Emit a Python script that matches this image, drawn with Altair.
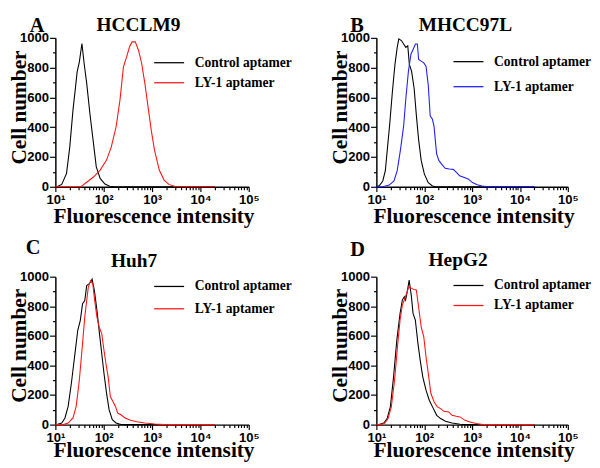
import math
import altair as alt
import pandas as pd

SERIF = "Liberation Serif"
SANS = "Liberation Sans"

SERIES = ["Control aptamer", "LY-1 aptamer"]
LETTERS = ["A", "B", "C", "D"]
CELL_LINES = ["HCCLM9", "MHCC97L", "Huh7", "HepG2"]
X_TITLE = "Fluorescence intensity"
Y_TITLE = "Cell number"
LY1_COLORS = ["#ff1414", "#1e1eff", "#ff1414", "#ff1414"]
DECADES = [1, 2, 3, 4, 5]
SUPERSCRIPTS = ["⁰", "¹", "²", "³", "⁴", "⁵"]
Y_TICKS = [0, 100, 200, 300, 400, 500, 600, 700, 800, 900, 1000]

# x = log10(fluorescence intensity), y = cell number
A_ctrl_x = [1.000, 1.033, 1.132, 1.231, 1.298, 1.364, 1.410, 1.450, 1.496, 1.549, 1.595, 1.648, 1.714, 1.780, 1.846, 1.926, 2.025, 2.124, 2.223, 4.300]
A_ctrl_y = [0, 0, 16, 90, 268, 515, 649, 772, 839, 962, 828, 694, 492, 313, 134, 56, 18, 4, 0, 0]
A_ly1_x = [1.000, 1.529, 1.562, 1.661, 1.793, 1.926, 2.058, 2.157, 2.256, 2.336, 2.408, 2.474, 2.534, 2.587, 2.653, 2.719, 2.785, 2.851, 2.917, 2.983, 3.050, 3.149, 3.248, 3.347, 3.479, 3.645, 4.300]
A_ly1_y = [0, 0, 9, 34, 67, 112, 179, 268, 403, 582, 805, 872, 940, 973, 973, 917, 828, 694, 537, 380, 246, 112, 45, 16, 2, 0, 0]

B_ctrl_x = [1.000, 1.067, 1.134, 1.187, 1.234, 1.281, 1.334, 1.388, 1.435, 1.468, 1.522, 1.569, 1.615, 1.656, 1.689, 1.736, 1.789, 1.836, 1.883, 1.936, 2.003, 2.084, 2.171, 2.237, 4.300]
B_ctrl_y = [0, 9, 39, 108, 269, 430, 637, 821, 936, 993, 982, 959, 936, 947, 821, 775, 660, 476, 315, 177, 85, 28, 5, 0, 0]
B_ly1_x = [1.000, 1.134, 1.268, 1.368, 1.435, 1.502, 1.569, 1.615, 1.669, 1.722, 1.769, 1.816, 1.856, 1.883, 1.936, 1.990, 2.037, 2.084, 2.124, 2.171, 2.204, 2.258, 2.304, 2.371, 2.438, 2.525, 2.605, 2.672, 2.739, 2.839, 2.926, 3.007, 3.107, 3.207, 3.341, 4.300]
B_ly1_y = [0, 0, 11, 39, 108, 246, 407, 591, 775, 890, 924, 959, 959, 855, 844, 832, 809, 683, 476, 453, 407, 223, 177, 149, 124, 120, 117, 97, 74, 62, 51, 28, 14, 5, 0, 0]

C_ctrl_x = [1.000, 1.033, 1.132, 1.198, 1.264, 1.331, 1.397, 1.463, 1.516, 1.562, 1.608, 1.648, 1.694, 1.727, 1.760, 1.807, 1.860, 1.912, 1.959, 2.005, 2.058, 2.111, 2.177, 2.256, 2.355, 4.300]
C_ctrl_y = [0, 0, 11, 45, 123, 280, 459, 638, 705, 817, 839, 940, 951, 962, 984, 906, 772, 615, 481, 347, 213, 101, 34, 11, 0, 0]
C_ly1_x = [1.000, 1.165, 1.264, 1.364, 1.430, 1.496, 1.562, 1.608, 1.648, 1.681, 1.727, 1.774, 1.813, 1.860, 1.906, 1.959, 2.005, 2.045, 2.091, 2.137, 2.190, 2.243, 2.289, 2.355, 2.441, 2.554, 2.686, 2.851, 3.050, 3.248, 4.300]
C_ly1_y = [0, 0, 11, 45, 123, 302, 548, 727, 839, 928, 973, 951, 839, 727, 660, 615, 503, 414, 324, 190, 157, 123, 78, 67, 45, 29, 20, 11, 4, 0, 0]

D_ctrl_x = [1.000, 1.054, 1.156, 1.224, 1.292, 1.359, 1.427, 1.495, 1.542, 1.583, 1.610, 1.644, 1.685, 1.732, 1.766, 1.814, 1.868, 1.915, 1.969, 2.037, 2.105, 2.173, 2.261, 2.342, 2.444, 2.580, 2.749, 2.885, 4.300]
D_ctrl_y = [0, 0, 11, 41, 120, 323, 571, 752, 842, 865, 842, 898, 977, 865, 752, 707, 549, 436, 323, 233, 165, 120, 63, 41, 23, 11, 2, 0, 0]
D_ly1_x = [1.000, 1.088, 1.176, 1.244, 1.312, 1.380, 1.447, 1.495, 1.542, 1.583, 1.631, 1.678, 1.732, 1.786, 1.834, 1.881, 1.936, 1.990, 2.037, 2.085, 2.139, 2.207, 2.275, 2.342, 2.410, 2.512, 2.580, 2.668, 2.749, 2.851, 2.953, 3.088, 3.224, 4.300]
D_ly1_y = [0, 0, 11, 41, 120, 300, 549, 707, 808, 842, 887, 932, 921, 914, 910, 797, 661, 594, 458, 345, 210, 153, 120, 108, 90, 86, 63, 56, 52, 29, 18, 7, 0, 0]

CURVES = [
    (A_ctrl_x, A_ctrl_y, A_ly1_x, A_ly1_y),
    (B_ctrl_x, B_ctrl_y, B_ly1_x, B_ly1_y),
    (C_ctrl_x, C_ctrl_y, C_ly1_x, C_ly1_y),
    (D_ctrl_x, D_ctrl_y, D_ly1_x, D_ly1_y),
]

# layout per panel: width, height, legendX, legendY, rowPadding,
# letter (x, top-y), name (x, top-y), x-title baseline offset below the plot
LAYOUT = [
    dict(w=200, h=154, lx=102.4, ly=18.7, rp=6.7, let=(-26.6, -23), nm=(85.9, -23), ty=37),
    dict(w=198, h=154, lx=80, ly=17.6, rp=11.9, let=(-27, -23), nm=(92, -23), ty=37),
    dict(w=200, h=153, lx=102.4, ly=3.1, rp=9.1, let=(-30.6, -40), nm=(81.4, -26.1), ty=33.5),
    dict(w=198, h=153, lx=80, ly=2.1, rp=6.7, let=(-27, -38.9), nm=(84.5, -27.2), ty=33.5),
]

X_TICKS = [d + math.log10(k) for d in DECADES[:-1] for k in range(1, 10)] + [DECADES[-1]]
DECADE_TEST = "abs(datum.value - round(datum.value)) < 0.001"
SUP_ARRAY = "[" + ",".join("'" + s + "'" for s in SUPERSCRIPTS) + "]"
X_LABEL_EXPR = f"{DECADE_TEST} ? '10' + {SUP_ARRAY}[round(datum.value)] : ''"


def text_layer(txt, size, x, y, align, baseline, angle=0):
    return alt.Chart(pd.DataFrame({"t": [txt]})).mark_text(
        font=SERIF, fontWeight="bold", fontSize=size, align=align, baseline=baseline,
        angle=angle, color="black",
    ).encode(text="t:N", x=alt.value(x), y=alt.value(y))


def panel(i):
    cx, cy, lx, ly = CURVES[i]
    L = LAYOUT[i]
    w, h = L["w"], L["h"]
    df = pd.DataFrame({
        "logI": cx + lx,
        "count": cy + ly,
        "series": [SERIES[0]] * len(cx) + [SERIES[1]] * len(lx),
    })
    xaxis = alt.Axis(
        values=X_TICKS, labelExpr=X_LABEL_EXPR, title=None,
        tickSize={"condition": {"test": DECADE_TEST, "value": 5}, "value": 3},
        labelFont=SANS, labelFontSize=13.5, labelFontWeight="bold", labelColor="black",
        labelPadding=1, labelFlush=False, labelOverlap=False,
        domainColor="black", domainWidth=1.5, tickColor="black", tickWidth=1.2, grid=False,
    )
    yaxis = alt.Axis(
        values=Y_TICKS, format="d", title=None,
        labelExpr="datum.value % 200 === 0 ? datum.label : ''",
        tickSize={"condition": {"test": "datum.value % 200 === 0", "value": 6}, "value": 3},
        labelFont=SANS, labelFontSize=13.5, labelFontWeight="bold", labelColor="black",
        labelPadding=1, labelFlush=False, labelOverlap=False,
        domainColor="black", domainWidth=1.5, tickColor="black", tickWidth=1.2, grid=False,
    )
    legend = alt.Legend(
        title=None, orient="none", legendX=L["lx"], legendY=L["ly"], direction="vertical",
        symbolType="M-4,0H4", symbolSize=60, symbolStrokeWidth=1.3,
        labelFont=SERIF, labelFontSize=14, labelFontWeight="bold", labelColor="black",
        labelOffset=19.5, rowPadding=L["rp"], padding=0, symbolOffset=8.25, labelLimit=300,
    )
    lines = alt.Chart(df).mark_line(strokeWidth=1.1).encode(
        x=alt.X("logI:Q", scale=alt.Scale(domain=[1, 5], nice=False, zero=False), axis=xaxis),
        y=alt.Y("count:Q", scale=alt.Scale(domain=[0, 1000], nice=False, zero=True), axis=yaxis),
        color=alt.Color("series:N", scale=alt.Scale(domain=SERIES, range=["black", LY1_COLORS[i]]), legend=legend),
    )
    letter = text_layer(LETTERS[i], 21, L["let"][0], L["let"][1], "left", "top")
    name = text_layer(CELL_LINES[i], 20, L["nm"][0], L["nm"][1], "center", "top")
    xtitle = text_layer(X_TITLE, 22, w / 2 + 2, h + L["ty"], "center", "alphabetic")
    ytitle = text_layer(Y_TITLE, 22, -30, h / 2 - 5, "center", "alphabetic", angle=270)
    return alt.layer(lines, letter, name, xtitle, ytitle).properties(width=w, height=h)


row1 = alt.hconcat(panel(0), panel(1), spacing=37).resolve_scale(color="independent")
row2 = alt.hconcat(panel(2), panel(3), spacing=37).resolve_scale(color="independent")
chart = (
    alt.vconcat(row1, row2, spacing=12)
    .resolve_scale(color="independent")
    .properties(padding=0, background="white")
    .configure_view(stroke=None)
)

chart.save("out.html", embed_options={"renderer": "svg", "actions": False})
